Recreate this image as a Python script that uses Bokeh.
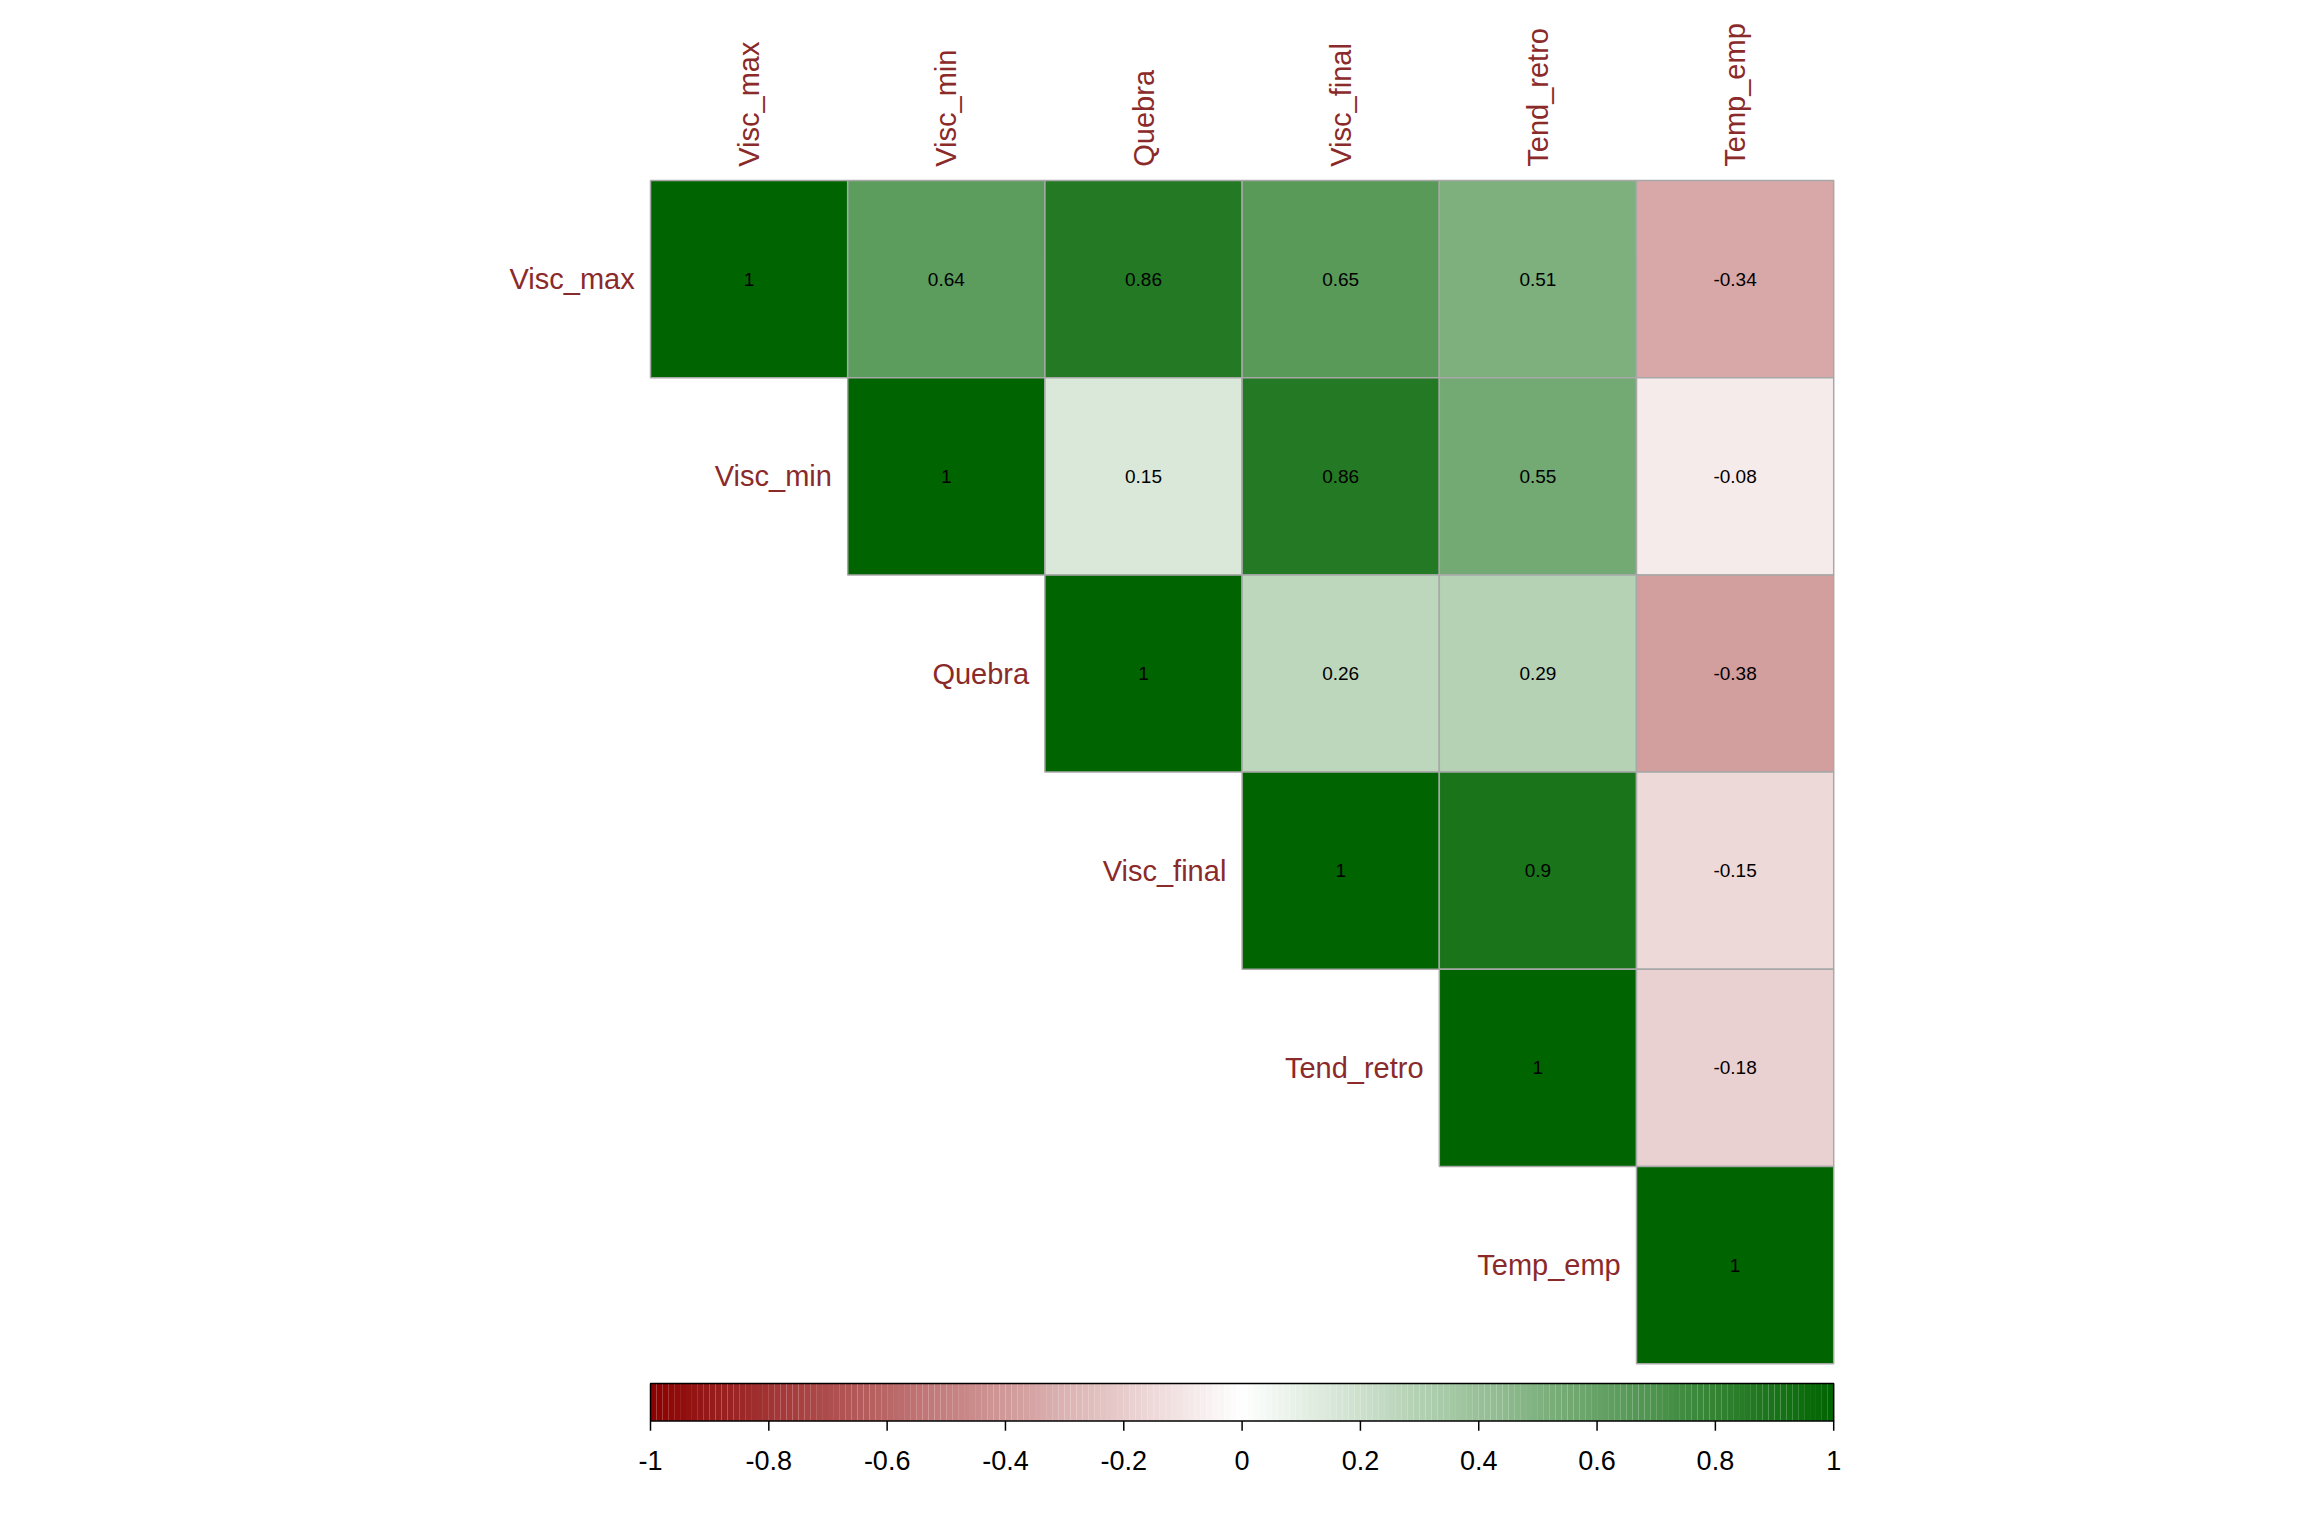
import numpy as np
from bokeh.plotting import figure
from bokeh.models import Range1d
from bokeh.core.properties import value
from bokeh.embed import file_html
from bokeh.resources import INLINE

names = ["Visc_max", "Visc_min", "Quebra", "Visc_final", "Tend_retro", "Temp_emp"]
corr = [
    [1, 0.64, 0.86, 0.65, 0.51, -0.34],
    [None, 1, 0.15, 0.86, 0.55, -0.08],
    [None, None, 1, 0.26, 0.29, -0.38],
    [None, None, None, 1, 0.9, -0.15],
    [None, None, None, None, 1, -0.18],
    [None, None, None, None, None, 1],
]
cbar_ticks = [-1, -0.8, -0.6, -0.4, -0.2, 0, 0.2, 0.4, 0.6, 0.8, 1]
cbar_labels = ["-1", "-0.8", "-0.6", "-0.4", "-0.2", "0", "0.2", "0.4", "0.6", "0.8", "1"]

LOW = np.array([139, 0, 0]); MID = np.array([255, 255, 255]); HIGH = np.array([0, 100, 0])

def colour(v):
    if v < 0:
        c = MID + (LOW - MID) * (-v)
    else:
        c = MID + (HIGH - MID) * v
    return "#%02x%02x%02x" % tuple(int(round(x)) for x in c)

def fmt(v):
    return ("%g" % v)

W, H = 2288, 1520
u = 197.2
gx, gy = 650, 180
p = figure(width=W, height=H, output_backend="svg", toolbar_location=None,
           x_range=Range1d(-gx / u, (W - gx) / u), y_range=Range1d((H - gy) / u, -gy / u),
           min_border=0, outline_line_color=None)
p.axis.visible = False
p.grid.visible = False

xs, ys, cols, txt = [], [], [], []
for i, row in enumerate(corr):
    for j, v in enumerate(row):
        if v is None:
            continue
        xs.append(j + 0.5); ys.append(i + 0.5); cols.append(colour(v)); txt.append(fmt(v))
p.rect(xs, ys, width=1, height=1, fill_color=cols, line_color="#a8a8a8", line_width=1.5)
p.text(xs, ys, text=txt, text_align="center", text_baseline="middle",
       text_font=value("Liberation Sans"), text_font_size="19px", text_color="black")

lab_col = "#8b2a2a"
p.text([i - 0.08 for i in range(6)], [i + 0.5 for i in range(6)], text=names,
       text_align="right", text_baseline="middle", text_font=value("Liberation Sans"),
       text_font_size="29px", text_color=lab_col)
p.text([i + 0.5 for i in range(6)], [-0.07] * 6, text=names, angle=np.pi / 2,
       text_align="left", text_baseline="middle", text_font=value("Liberation Sans"),
       text_font_size="29px", text_color=lab_col)

# colour bar
n = 200
vals = np.linspace(-1, 1, n + 1)
mids = (vals[:-1] + vals[1:]) / 2
cb_top, cb_bot = 6.1, 6.29
p.quad(left=(vals[:-1] + 1) * 3, right=(vals[1:] + 1) * 3, top=cb_top, bottom=cb_bot,
       fill_color=[colour(v) for v in mids], line_color=None)
p.quad(left=0, right=6, top=cb_top, bottom=cb_bot, fill_color=None, line_color="black", line_width=1.5)
tx = [(t + 1) * 3 for t in cbar_ticks]
p.segment(x0=tx, x1=tx, y0=[cb_bot] * len(tx), y1=[cb_bot + 0.05] * len(tx), line_color="black", line_width=1.5)
p.text(tx, [cb_bot + 0.2] * len(tx), text=cbar_labels, text_align="center", text_baseline="middle",
       text_font=value("Liberation Sans"), text_font_size="27px", text_color="black")

open("out.html", "w").write(file_html(p, INLINE))
